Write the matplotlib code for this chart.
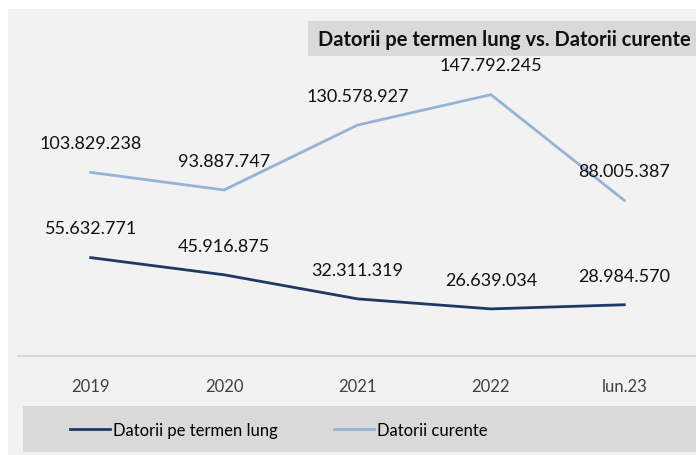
import matplotlib
matplotlib.use('Agg')
import matplotlib.pyplot as plt
from matplotlib.patches import Rectangle
from matplotlib.lines import Line2D

plt.rcParams['font.family'] = ['Lato', 'DejaVu Sans']

categories = ["2019", "2020", "2021", "2022", "lun.23"]
termen_lung = [55632771, 45916875, 32311319, 26639034, 28984570]
curente = [103829238, 93887747, 130578927, 147792245, 88005387]
title = "Datorii pe termen lung vs. Datorii curente"

W, H = 696, 456
fig = plt.figure(figsize=(W / 100, H / 100), dpi=100, facecolor="white")


def fx(px):
    return px / W


def fy(py):
    return 1 - py / H


# gray backgrounds
fig.patches.append(Rectangle((fx(8), fy(456)), fx(688), 446 / H,
                             transform=fig.transFigure, facecolor="#f2f2f2",
                             edgecolor="none", zorder=-3))
fig.patches.append(Rectangle((fx(23), fy(453)), fx(673), 46 / H,
                             transform=fig.transFigure, facecolor="#d9d9d9",
                             edgecolor="none", zorder=-2))
fig.patches.append(Rectangle((fx(308), fy(57)), fx(388), 35 / H,
                             transform=fig.transFigure, facecolor="#d9d9d9",
                             edgecolor="none", zorder=-2))
fig.text(fx(318), fy(40), title, fontsize=14.5, fontweight="bold",
         color="#111111", ha="left", va="center")

# axis line
fig.lines.append(Line2D([fx(18), fx(696)], [fy(357), fy(357)],
                        transform=fig.transFigure, color="#d9d9d9", lw=1.5,
                        zorder=-1))

ax = fig.add_axes([fx(24), fy(357), fx(667), 336 / H])
ax.set_zorder(1)
ax.set_facecolor("none")
x = list(range(len(categories)))
dark = "#1f3864"
light = "#95b3d7"
l1, = ax.plot(x, [v / 1e6 for v in termen_lung], color=dark, lw=2,
              label="Datorii pe termen lung")
l2, = ax.plot(x, [v / 1e6 for v in curente], color=light, lw=2,
              label="Datorii curente")


def fmt(v):
    return "{:,}".format(v).replace(",", ".")


for series in (termen_lung, curente):
    for i, v in enumerate(series):
        ax.annotate(fmt(v), (i, v / 1e6), xytext=(0, 21),
                    textcoords="offset points", ha="center", va="center",
                    fontsize=13, color="#111111")

ax.set_xlim(-0.5, 4.5)
ax.set_ylim(0, 190)
ax.set_yticks([])
ax.set_xticks(x)
ax.set_xticklabels(categories, fontsize=12, color="#404040")
ax.tick_params(axis="x", length=0, pad=16)
for s in ax.spines.values():
    s.set_visible(False)

fig.legend(handles=[l1, l2], loc="center", bbox_to_anchor=(fx(279), fy(431)),
           ncol=2, frameon=False, fontsize=12, handlelength=2.4,
           handletextpad=0.15, columnspacing=3.4)

fig.savefig("out.png", dpi=100, facecolor=fig.get_facecolor())
